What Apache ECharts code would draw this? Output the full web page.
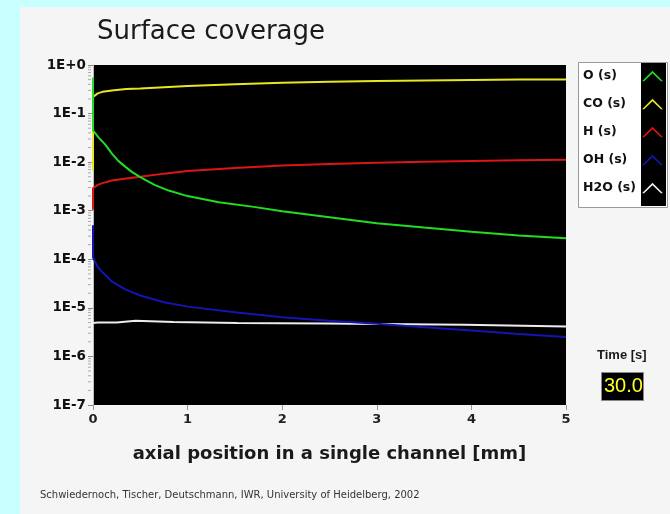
<!DOCTYPE html>
<html><head><meta charset="utf-8">
<script src="https://cdn.jsdelivr.net/npm/echarts@6/dist/echarts.min.js"></script>
<style>html,body{margin:0;padding:0;background:#c8ffff;}#c{width:670px;height:514px;}</style>
</head><body><div id="c"></div>
<script>
var seriesNames = ['O (s)', 'CO (s)', 'H (s)', 'OH (s)', 'H2O (s)'];
var seriesColors = ['#22dd22', '#e6e622', '#dd1515', '#1414b4', '#ececec'];

var xO  = [0, 0, 0.02, 0.06, 0.13, 0.2, 0.27, 0.35, 0.41, 0.5, 0.65, 0.8, 1.0, 1.33, 1.7, 2.0, 2.5, 3.0, 3.5, 4.0, 4.5, 5.0];
var yO  = [0.55, 0.045, 0.042, 0.032, 0.023, 0.015, 0.0105, 0.0078, 0.0063, 0.0049, 0.0034, 0.0026, 0.0020, 0.0015, 0.0012, 0.00097, 0.00073, 0.00055, 0.00045, 0.00037, 0.00031, 0.00027];

var xCO = [0, 0, 0.02, 0.05, 0.1, 0.2, 0.35, 0.5, 0.75, 1, 1.5, 2, 2.5, 3, 3.5, 4, 4.5, 5];
var yCO = [0.0066, 0.22, 0.24, 0.26, 0.28, 0.30, 0.32, 0.33, 0.35, 0.37, 0.40, 0.43, 0.45, 0.47, 0.48, 0.49, 0.50, 0.50];

var xH  = [0, 0, 0.02, 0.05, 0.1, 0.2, 0.35, 0.5, 0.75, 1, 1.5, 2, 2.5, 3, 3.5, 4, 4.5, 5];
var yH  = [0.00105, 0.0029, 0.0031, 0.0034, 0.0037, 0.0042, 0.0046, 0.0050, 0.0058, 0.0066, 0.0076, 0.0085, 0.0092, 0.0097, 0.0102, 0.0106, 0.0109, 0.0112];

var xOH = [0, 0, 0.02, 0.05, 0.1, 0.2, 0.35, 0.5, 0.75, 1, 1.5, 2, 2.5, 3, 3.5, 4, 4.5, 5];
var yOH = [0.0005, 0.00011, 0.00009, 0.00007, 0.000054, 0.000035, 0.0000235, 0.000018, 0.000013, 0.0000106, 0.0000081, 0.0000064, 0.0000054, 0.0000047, 0.000004, 0.0000034, 0.0000029, 0.0000025];

var xH2O = [0, 0.05, 0.25, 0.27, 0.45, 0.47, 0.85, 0.87, 1.53, 1.55, 2.44, 2.46, 3.93, 3.95, 5];
var yH2O = [0.0000049, 0.000005, 0.000005, 0.0000054, 0.0000054, 0.0000051, 0.0000051, 0.0000049, 0.0000049, 0.00000475, 0.00000475, 0.0000045, 0.0000045, 0.00000415, 0.00000415];

var xTicks = [0, 1, 2, 3, 4, 5];
var yMin = 1e-7, yMax = 1;
var timeLabel = 'Time [s]';
var timeValue = '30.0';

function pairs(xs, ys) { return xs.map(function (x, i) { return [x, ys[i]]; }); }
var allData = [pairs(xO, yO), pairs(xCO, yCO), pairs(xH, yH), pairs(xOH, yOH), pairs(xH2O, yH2O)];

// minor tick positions (log-spaced) for the y axis
var minorTicks = [];
for (var k = -7; k < 0; k++) { for (var m = 2; m <= 9; m++) { minorTicks.push([0, m * Math.pow(10, k)]); } }

var chart = echarts.init(document.getElementById('c'), null, { renderer: 'canvas' });
var FONT = 'DejaVu Sans, sans-serif';
var FONT2 = 'Liberation Sans, Arial, sans-serif';

var series = seriesNames.map(function (n, i) {
  return {
    name: n, type: 'line', data: allData[i], showSymbol: false, symbol: 'none',
    lineStyle: { color: seriesColors[i], width: 2 }, itemStyle: { color: seriesColors[i] },
    z: 10 - i, animation: false, clip: true
  };
});
series.push({
  type: 'custom', data: minorTicks, clip: false, silent: true, z: 3, animation: false,
  renderItem: function (params, api) {
    var p = api.coord([0, api.value(1)]);
    return { type: 'line', shape: { x1: p[0] - 2, y1: p[1], x2: p[0] - 5, y2: p[1] }, style: { stroke: '#aaaaaa', lineWidth: 1 } };
  }
});

chart.setOption({
  backgroundColor: '#c8ffff',
  animation: false,
  title: {
    text: 'Surface coverage', left: 92, top: 14,
    textStyle: { fontFamily: FONT, fontSize: 26, fontWeight: 'normal', color: '#1a1a1a' }
  },
  grid: { left: 93, right: 104, top: 65, bottom: 109, show: true, backgroundColor: '#000', borderWidth: 0 },
  legend: {
    orient: 'vertical', left: 583, top: 69, align: 'right', padding: 0,
    itemWidth: 21, itemHeight: 13, itemGap: 14,
    icon: 'path://M0,10L10,0L20,10L18,10L10,2.4L2,10Z',
    data: seriesNames, selectedMode: false,
    formatter: '{a|{name}}',
    textStyle: { fontFamily: FONT, fontSize: 12, fontWeight: 'bold', color: '#111', lineHeight: 14,
      rich: { a: { width: 54, align: 'left', fontFamily: FONT, fontSize: 12.5, fontWeight: 'bold', color: '#111' } } },
    z: 20
  },
  xAxis: {
    type: 'value', min: xTicks[0], max: xTicks[xTicks.length - 1], interval: 1,
    name: 'axial position in a single channel [mm]', nameLocation: 'middle', nameGap: 40,
    nameTextStyle: { fontFamily: FONT, fontSize: 18, fontWeight: 'bold', color: '#1a1a1a' },
    axisLine: { show: false },
    axisTick: { show: true, length: 5, lineStyle: { color: '#999' } },
    axisLabel: { fontFamily: FONT, fontSize: 13, fontWeight: 'bold', color: '#222', margin: 8 },
    splitLine: { show: false }
  },
  yAxis: {
    type: 'log', logBase: 10, min: yMin, max: yMax, interval: 1,
    axisLine: { show: true, onZero: false, lineStyle: { color: '#bbbbbb', width: 1 } },
    axisTick: { show: true, length: 5, lineStyle: { color: '#888' } },
    axisLabel: {
      fontFamily: FONT, fontSize: 13.5, fontWeight: 'bold', color: '#111', margin: 7,
      formatter: function (v) { var e = Math.round(Math.log10(v)); return '1E' + (e >= 0 ? '+' : '') + e; }
    },
    splitLine: { show: false }
  },
  graphic: [
    { type: 'rect', left: 20, top: 7, shape: { width: 650, height: 507 }, style: { fill: '#f5f5f5' }, z: -10, silent: true },
    { type: 'rect', left: 578, top: 62, shape: { width: 89, height: 145 }, style: { fill: '#ffffff', stroke: '#999', lineWidth: 1 }, z: 1, silent: true },
    { type: 'rect', left: 641, top: 63, shape: { width: 25, height: 143 }, style: { fill: '#000' }, z: 2, silent: true },
    { type: 'text', left: 597, top: 349, style: { text: timeLabel, font: 'bold 13px ' + FONT2, fill: '#1a1a1a' }, z: 5 },
    { type: 'rect', left: 601, top: 372, shape: { width: 42, height: 28 }, style: { fill: '#000', stroke: '#888', lineWidth: 1 }, z: 5 },
    { type: 'text', left: 604, top: 376, style: { text: timeValue, font: '20px ' + FONT2, fill: '#ffff22' }, z: 6 },
    { type: 'text', left: 40, top: 490, style: { text: 'Schwiedernoch, Tischer, Deutschmann, IWR, University of Heidelberg, 2002', font: '10px ' + FONT, fill: '#333' }, z: 5 }
  ],
  series: series
});
</script></body></html>
